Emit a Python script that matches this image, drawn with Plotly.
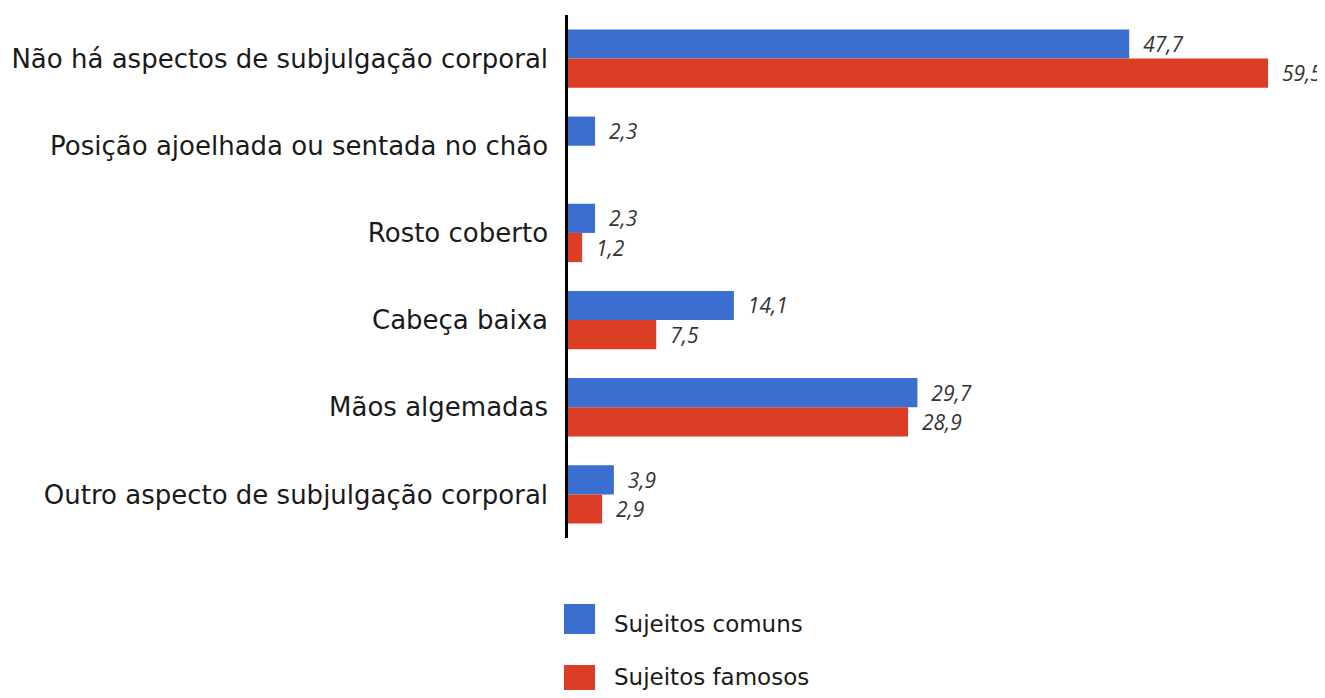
import plotly.graph_objects as go

categorias = [
    "Não há aspectos de subjulgação corporal",
    "Posição ajoelhada ou sentada no chão",
    "Rosto coberto",
    "Cabeça baixa",
    "Mãos algemadas",
    "Outro aspecto de subjulgação corporal",
]
comuns = [47.7, 2.3, 2.3, 14.1, 29.7, 3.9]
famosos = [59.5, None, 1.2, 7.5, 28.9, 2.9]
series = ["Sujeitos comuns", "Sujeitos famosos"]
cores = ["#3b6fcf", "#db3e24"]

FONT = "DejaVu Sans"
FONT_VAL = "Open Sans"

fig = go.Figure()
for nome, valores, cor in zip(series, [comuns, famosos], cores):
    fig.add_trace(go.Bar(
        y=categorias, x=valores, name=nome, orientation="h",
        marker=dict(color=cor, line=dict(width=0)),
        texttemplate="  %{x:.1f}", textposition="outside",
        textfont=dict(family=FONT_VAL, size=21, color="#333333", style="italic"),
        constraintext="none", cliponaxis=False, showlegend=False,
    ))

# legenda desenhada à mão (quadrados grandes), em coordenadas do papel
legenda_y = [(-0.1262, -0.1836, -0.1644), (-0.2428, -0.3002, -0.2660)]
shapes = []
annotations = []
for nome, cor, (y0, y1, yt) in zip(series, cores, legenda_y):
    shapes.append(dict(type="rect", xref="paper", yref="paper",
                       x0=-0.0053, x1=0.0359, y0=y0, y1=y1,
                       fillcolor=cor, line=dict(width=0)))
    annotations.append(dict(xref="paper", yref="paper", x=0.0584, y=yt,
                            text=nome, showarrow=False, xanchor="left", yanchor="middle",
                            font=dict(family=FONT, size=23, color="#1a1a1a")))

# a página tem 8px de margem no body; a figura é reduzida para caber na janela
fig.update_layout(
    width=1317, height=682,
    margin=dict(l=560, r=4, t=7, b=152),
    barmode="group", bargap=0.33, bargroupgap=0,
    separators=",.",
    plot_bgcolor="white", paper_bgcolor="white",
    font=dict(family=FONT, color="#1a1a1a"),
    shapes=shapes, annotations=annotations,
    showlegend=False,
)
fig.update_xaxes(range=[0, 64], showgrid=False, zeroline=False,
                 showticklabels=False, ticks="")
fig.update_yaxes(autorange="reversed", showgrid=False, showline=True,
                 linecolor="black", linewidth=2.5, ticks="",
                 ticklabelstandoff=12, automargin=False,
                 tickfont=dict(family=FONT, size=26, color="#1a1a1a"))

fig.write_html("out.html")
